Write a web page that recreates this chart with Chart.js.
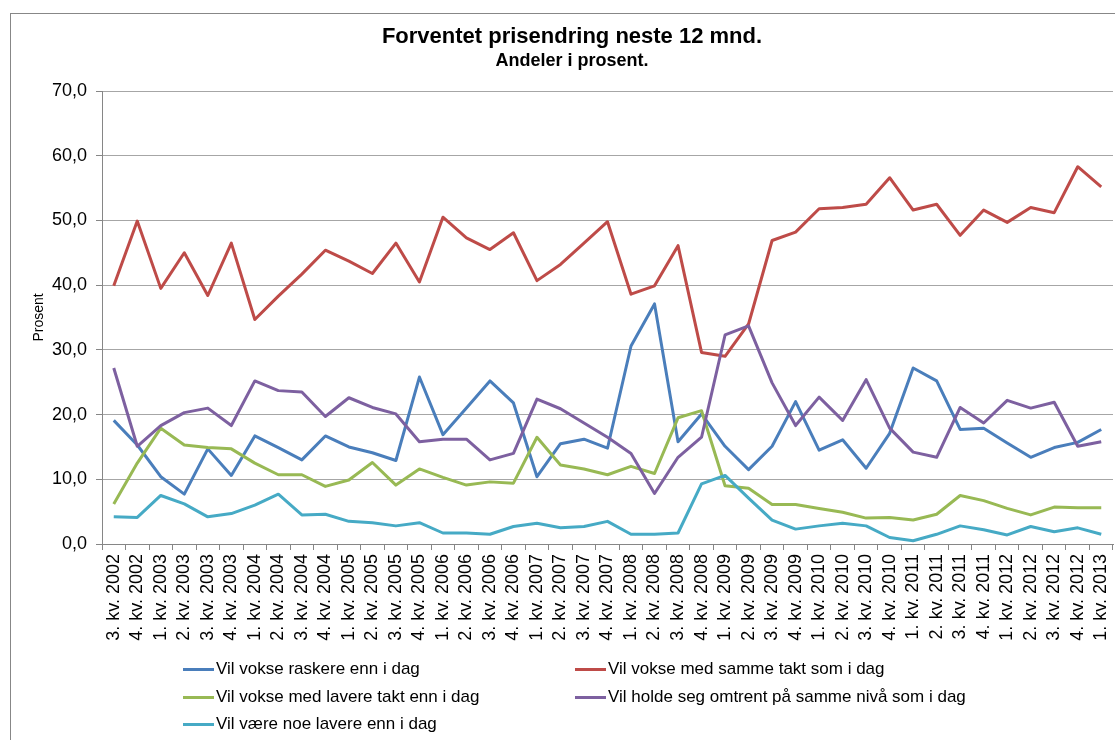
<!DOCTYPE html>
<html>
<head>
<meta charset="utf-8">
<script src="https://cdn.jsdelivr.net/npm/chart.js@4.4.1/dist/chart.umd.min.js"></script>
<style>
    html, body { margin: 0; padding: 0; background: #fff; overflow: hidden; }
    #wrap { position: relative; width: 1115px; height: 740px; overflow: hidden; }
    #ramme { position: absolute; left: 10px; top: 13px; width: 1300px; height: 900px; border: 1px solid #878787; pointer-events: none; }
    #chart { position: absolute; left: 0; top: 0; }
    .forklaring { position: absolute; display: flex; align-items: center; height: 22px; white-space: nowrap;
        font-family: 'Liberation Sans', Arial, sans-serif; font-size: 17px; color: #000; }
    .forklaring i { display: inline-block; width: 31px; height: 3px; margin-right: 2px; }
</style>
</head>
<body>
<div id="wrap">
    <div id="ramme"></div>
    <canvas id="chart" width="1144" height="740" style="width:1144px;height:740px"></canvas>
</div>
<script>
const kvartaler = [
    "3. kv. 2002", "4. kv. 2002",
    "1. kv. 2003", "2. kv. 2003", "3. kv. 2003", "4. kv. 2003",
    "1. kv. 2004", "2. kv. 2004", "3. kv. 2004", "4. kv. 2004",
    "1. kv. 2005", "2. kv. 2005", "3. kv. 2005", "4. kv. 2005",
    "1. kv. 2006", "2. kv. 2006", "3. kv. 2006", "4. kv. 2006",
    "1. kv. 2007", "2. kv. 2007", "3. kv. 2007", "4. kv. 2007",
    "1. kv. 2008", "2. kv. 2008", "3. kv. 2008", "4. kv. 2008",
    "1. kv. 2009", "2. kv. 2009", "3. kv. 2009", "4. kv. 2009",
    "1. kv. 2010", "2. kv. 2010", "3. kv. 2010", "4. kv. 2010",
    "1. kv. 2011", "2. kv. 2011", "3. kv. 2011", "4. kv. 2011",
    "1. kv. 2012", "2. kv. 2012", "3. kv. 2012", "4. kv. 2012",
    "1. kv. 2013"
];

// Andeler i prosent, en verdi per kvartal
const raskere = [19.1, 15.3, 10.4, 7.7, 14.7, 10.6, 16.7, 14.9, 13.0, 16.7,
    15.0, 14.1, 12.9, 25.8, 16.9, 21.0, 25.2, 21.8, 10.4, 15.5,
    16.2, 14.8, 30.6, 37.1, 15.8, 20.1, 15.1, 11.5, 15.1, 22.0,
    14.5, 16.1, 11.7, 17.1, 27.2, 25.2, 17.7, 17.9, 15.6, 13.4,
    14.9, 15.7, 17.7];
const sammeTakt = [39.9, 49.9, 39.5, 45.0, 38.4, 46.5, 34.7, 38.3, 41.7, 45.4,
    43.7, 41.8, 46.5, 40.5, 50.5, 47.3, 45.5, 48.1, 40.7, 43.2,
    46.5, 49.8, 38.6, 39.9, 46.1, 29.6, 29.0, 34.0, 46.9, 48.2,
    51.8, 52.0, 52.5, 56.6, 51.6, 52.5, 47.7, 51.6, 49.7, 52.0,
    51.2, 58.3, 55.2];
const lavereTakt = [6.2, 12.5, 17.9, 15.3, 14.9, 14.7, 12.5, 10.7, 10.7, 8.9,
    9.9, 12.6, 9.1, 11.6, 10.3, 9.1, 9.6, 9.4, 16.5, 12.2,
    11.6, 10.7, 12.0, 10.9, 19.5, 20.6, 9.0, 8.6, 6.1, 6.1,
    5.5, 4.9, 4.0, 4.1, 3.7, 4.6, 7.5, 6.7, 5.5, 4.5,
    5.7, 5.6, 5.6];
const sammeNiva = [27.2, 15.1, 18.3, 20.3, 21.0, 18.3, 25.2, 23.7, 23.5, 19.7,
    22.6, 21.1, 20.1, 15.8, 16.2, 16.2, 13.0, 14.0, 22.4, 20.9,
    18.7, 16.5, 14.0, 7.8, 13.4, 16.5, 32.3, 33.7, 24.9, 18.3,
    22.7, 19.1, 25.4, 17.9, 14.2, 13.4, 21.1, 18.7, 22.2, 21.0,
    21.9, 15.1, 15.8];
const noeLavere = [4.2, 4.1, 7.5, 6.2, 4.2, 4.7, 6.0, 7.7, 4.5, 4.6,
    3.5, 3.3, 2.8, 3.3, 1.7, 1.7, 1.5, 2.7, 3.2, 2.5,
    2.7, 3.5, 1.5, 1.5, 1.7, 9.3, 10.6, 7.1, 3.7, 2.3,
    2.8, 3.2, 2.8, 1.0, 0.5, 1.5, 2.8, 2.2, 1.4, 2.7,
    1.9, 2.5, 1.5];

const serieNavn = [
    "Vil vokse raskere enn i dag",
    "Vil vokse med samme takt som i dag",
    "Vil vokse med lavere takt enn i dag",
    "Vil holde seg omtrent på samme nivå som i dag",
    "Vil være noe lavere enn i dag"
];
const serier = [raskere, sammeTakt, lavereTakt, sammeNiva, noeLavere];
const farger = ["#4a7ebb", "#be4b48", "#98b954", "#7d60a0", "#46aac5"];

const skrift = "'Liberation Sans', Arial, sans-serif";

const ctx = document.getElementById("chart").getContext("2d");
new Chart(ctx, {
    type: "line",
    data: {
        labels: kvartaler,
        datasets: serier.map((verdier, i) => ({
            label: serieNavn[i],
            data: verdier,
            borderColor: farger[i],
            backgroundColor: farger[i],
            borderWidth: 3,
            borderJoinStyle: "round",
            pointRadius: 0,
            tension: 0,
            fill: false,
            order: serier.length - i // siste serie tegnes øverst, som i Excel
        }))
    },
    options: {
        responsive: false,
        animation: false,
        // lik margin på begge sider slik at tittelen sentreres som i originalen
        layout: { padding: { left: 31, right: 31, top: 0, bottom: 0 } },
        plugins: {
            legend: { display: false },
            tooltip: { enabled: false },
            title: {
                display: true,
                text: "Forventet prisendring neste 12 mnd.",
                color: "#000",
                font: { family: skrift, size: 22, weight: "bold", lineHeight: 1.2 },
                padding: { top: 24, bottom: 0 }
            },
            subtitle: {
                display: true,
                text: "Andeler i prosent.",
                color: "#000",
                font: { family: skrift, size: 18, weight: "bold", lineHeight: 1.2 },
                padding: { top: 0, bottom: 19 }
            }
        },
        scales: {
            x: {
                offset: true,
                grid: { offset: true, drawOnChartArea: false, drawTicks: true, tickLength: 6, color: "#868686" },
                border: { color: "#868686" },
                ticks: {
                    autoSkip: false,
                    minRotation: 90,
                    maxRotation: 90,
                    padding: 4,
                    color: "#000",
                    font: { family: skrift, size: 18 }
                },
                afterFit: function (skala) { skala.height = 196; }
            },
            y: {
                min: 0,
                max: 70,
                ticks: {
                    stepSize: 10,
                    padding: 9,
                    color: "#000",
                    font: { family: skrift, size: 18 },
                    callback: v => v.toFixed(1).replace(".", ",")
                },
                grid: { color: "#a6a6a6", tickColor: "#868686", tickLength: 6 },
                border: { color: "#868686" },
                title: {
                    display: true,
                    text: "Prosent",
                    color: "#000",
                    font: { family: skrift, size: 14 },
                    padding: { top: 0, bottom: 0 }
                },
                afterFit: function (skala) { skala.width = 71; }
            }
        }
    }
});

// Forklaring i to kolonner under diagrammet
const kolonneX = [183, 575];
const radY = [669, 697, 724];
const wrap = document.getElementById("wrap");
serieNavn.forEach((navn, i) => {
    const el = document.createElement("div");
    el.className = "forklaring";
    el.style.left = kolonneX[i % 2] + "px";
    el.style.top = (radY[Math.floor(i / 2)] - 11) + "px";
    const strek = document.createElement("i");
    strek.style.background = farger[i];
    el.appendChild(strek);
    el.appendChild(document.createTextNode(navn));
    wrap.appendChild(el);
});
</script>
</body>
</html>
